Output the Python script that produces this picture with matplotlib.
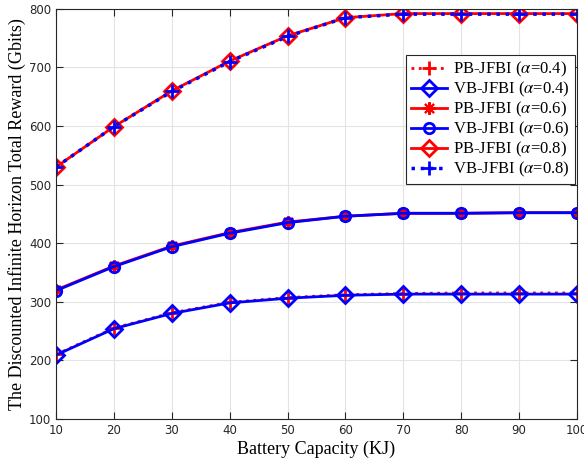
import numpy as np
import matplotlib
matplotlib.use("Agg")
import matplotlib.pyplot as plt

plt.rcParams['mathtext.fontset'] = 'stix'

capacity = [10, 20, 30, 40, 50, 60, 70, 80, 90, 100]

pb_04 = [210, 255, 281, 299, 307, 312, 314, 315, 315, 315]
vb_04 = [209, 254, 280, 298, 306, 311, 313, 313, 313, 313]
pb_06 = [320, 361, 395, 418, 436, 446, 451, 451, 452, 452]
vb_06 = [319, 360, 394, 417, 435, 446, 451, 451, 452, 452]
pb_08 = [530, 599, 660, 711, 754, 785, 792, 792, 792, 792]
vb_08 = [530, 599, 659, 710, 753, 785, 791, 791, 791, 791]

labels = [r'PB-JFBI ($\alpha$=0.4)', r'VB-JFBI ($\alpha$=0.4)',
          r'PB-JFBI ($\alpha$=0.6)', r'VB-JFBI ($\alpha$=0.6)',
          r'PB-JFBI ($\alpha$=0.8)', r'VB-JFBI ($\alpha$=0.8)']

fig = plt.figure(figsize=(5.84, 4.68), dpi=100)
ax = fig.add_axes([0.096, 0.105, 0.892, 0.876])

ax.plot(capacity, pb_04, color='red', ls=':', lw=2, marker='+', ms=10, mew=2, label=labels[0])
ax.plot(capacity, vb_04, color='blue', ls='-', lw=2, marker='D', ms=8, mew=2, mfc='none', label=labels[1])
ax.plot(capacity, pb_06, color='red', ls='-', lw=2, marker=(8, 2, 0), ms=9, mew=1.5, label=labels[2])
ax.plot(capacity, vb_06, color='blue', ls='-', lw=2, marker='o', ms=7.5, mew=2, mfc='none', label=labels[3])
ax.plot(capacity, pb_08, color='red', ls='-', lw=2, marker='D', ms=8.5, mew=2, mfc='none', label=labels[4])
ax.plot(capacity, vb_08, color='blue', ls=':', lw=2.5, marker='+', ms=10, mew=2, label=labels[5])

ax.set_xlim(10, 100)
ax.set_ylim(100, 800)
ax.set_xticks(capacity)
ax.set_yticks(np.arange(100, 801, 100))
ax.grid(True, color='#e3e3e3', lw=0.8)
ax.set_axisbelow(True)
ax.tick_params(direction='in', top=True, right=True, labelsize=8.5, colors='#262626', length=5)
for s in ax.spines.values():
    s.set_color('#262626')
    s.set_linewidth(0.8)

ax.set_xlabel('Battery Capacity (KJ)', family='Liberation Serif', fontsize=13, labelpad=3)
ax.set_ylabel('The Discounted Infinite Horizon Total Reward (Gbits)', family='Liberation Serif',
              fontsize=13, labelpad=2)

leg = ax.legend(loc='upper right', bbox_to_anchor=(0.996, 0.888), prop={'family': 'Liberation Serif', 'size': 12},
                fancybox=False, edgecolor='#262626', framealpha=1, handlelength=2.2,
                labelspacing=0.05, borderpad=0.3, handletextpad=0.35, borderaxespad=0)
leg.get_frame().set_linewidth(0.8)

fig.savefig('out.png', dpi=100)
